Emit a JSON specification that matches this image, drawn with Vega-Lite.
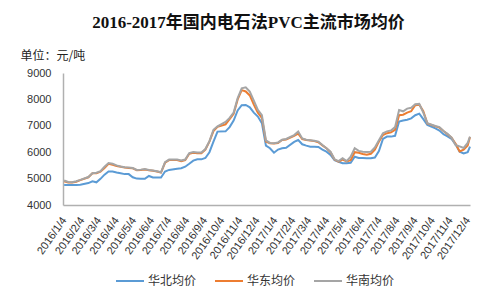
{
  "$schema": "https://vega.github.io/schema/vega-lite/v6.json",
  "width": 407,
  "height": 132,
  "autosize": {"type": "none"},
  "padding": {"left": 63, "top": 73, "right": 28, "bottom": 98},
  "background": "white",
  "config": {"view": {"stroke": null}, "font": "Liberation Sans"},
  "title": {
    "text": "2016-2017年国内电石法PVC主流市场均价",
    "font": "Liberation Serif, Noto Sans CJK SC",
    "fontSize": 17,
    "fontWeight": "bold",
    "color": "#111111",
    "anchor": "middle",
    "dx": -18,
    "offset": 17
  },
  "data": {
    "values": [
      {"date": "2016-01-04", "华北均价": 4760, "华东均价": 4900, "华南均价": 4930},
      {"date": "2016-01-11", "华北均价": 4760, "华东均价": 4850, "华南均价": 4870},
      {"date": "2016-01-18", "华北均价": 4760, "华东均价": 4850, "华南均价": 4860},
      {"date": "2016-01-25", "华北均价": 4760, "华东均价": 4880, "华南均价": 4900},
      {"date": "2016-02-01", "华北均价": 4770, "华东均价": 4940, "华南均价": 4950},
      {"date": "2016-02-15", "华北均价": 4830, "华东均价": 5050, "华南均价": 5060},
      {"date": "2016-02-22", "华北均价": 4900, "华东均价": 5200, "华南均价": 5200},
      {"date": "2016-02-29", "华北均价": 4860, "华东均价": 5200, "华南均价": 5220},
      {"date": "2016-03-07", "华北均价": 4990, "华东均价": 5260, "华南均价": 5280},
      {"date": "2016-03-14", "华北均价": 5150, "华东均价": 5400, "华南均价": 5450},
      {"date": "2016-03-21", "华北均价": 5270, "华东均价": 5560, "华南均价": 5590},
      {"date": "2016-03-28", "华北均价": 5270, "华东均价": 5520, "华南均价": 5560},
      {"date": "2016-04-04", "华北均价": 5230, "华东均价": 5480, "华南均价": 5500},
      {"date": "2016-04-11", "华北均价": 5200, "华东均价": 5450, "华南均价": 5460},
      {"date": "2016-04-18", "华北均价": 5170, "华东均价": 5420, "华南均价": 5430},
      {"date": "2016-04-25", "华北均价": 5170, "华东均价": 5400, "华南均价": 5420},
      {"date": "2016-05-02", "华北均价": 5050, "华东均价": 5390, "华南均价": 5400},
      {"date": "2016-05-09", "华北均价": 5000, "华东均价": 5320, "华南均价": 5330},
      {"date": "2016-05-16", "华北均价": 4990, "华东均价": 5330, "华南均价": 5340},
      {"date": "2016-05-23", "华北均价": 4990, "华东均价": 5340, "华南均价": 5360},
      {"date": "2016-05-30", "华北均价": 5100, "华东均价": 5320, "华南均价": 5330},
      {"date": "2016-06-06", "华北均价": 5040, "华东均价": 5300, "华南均价": 5310},
      {"date": "2016-06-13", "华北均价": 5040, "华东均价": 5270, "华南均价": 5280},
      {"date": "2016-06-20", "华北均价": 5040, "华东均价": 5230, "华南均价": 5240},
      {"date": "2016-06-27", "华北均价": 5270, "华东均价": 5600, "华南均价": 5620},
      {"date": "2016-07-04", "华北均价": 5330, "华东均价": 5700, "华南均价": 5720},
      {"date": "2016-07-18", "华北均价": 5370, "华东均价": 5700, "华南均价": 5720},
      {"date": "2016-07-25", "华北均价": 5390, "华东均价": 5660, "华南均价": 5690},
      {"date": "2016-08-01", "华北均价": 5450, "华东均价": 5700, "华南均价": 5720},
      {"date": "2016-08-08", "华北均价": 5560, "华东均价": 5940, "华南均价": 5970},
      {"date": "2016-08-15", "华北均价": 5680, "华东均价": 5980, "华南均价": 6010},
      {"date": "2016-08-22", "华北均价": 5730, "华东均价": 5960, "华南均价": 5990},
      {"date": "2016-08-29", "华北均价": 5730, "华东均价": 5960, "华南均价": 5990},
      {"date": "2016-09-05", "华北均价": 5780, "华东均价": 6100, "华南均价": 6120},
      {"date": "2016-09-12", "华北均价": 6000, "华东均价": 6400, "华南均价": 6420},
      {"date": "2016-09-19", "华北均价": 6400, "华东均价": 6800, "华南均价": 6850},
      {"date": "2016-09-26", "华北均价": 6780, "华东均价": 6960, "华南均价": 6980},
      {"date": "2016-10-10", "华北均价": 6790, "华东均价": 7050, "华南均价": 7150},
      {"date": "2016-10-17", "华北均价": 6950, "华东均价": 7250, "华南均价": 7300},
      {"date": "2016-10-24", "华北均价": 7200, "华东均价": 7450, "华南均价": 7500},
      {"date": "2016-10-31", "华北均价": 7580, "华东均价": 8000, "华南均价": 8050},
      {"date": "2016-11-07", "华北均价": 7780, "华东均价": 8350, "华南均价": 8420},
      {"date": "2016-11-14", "华北均价": 7790, "华东均价": 8300, "华南均价": 8460},
      {"date": "2016-11-21", "华北均价": 7700, "华东均价": 8150, "华南均价": 8300},
      {"date": "2016-11-28", "华北均价": 7500, "华东均价": 7800, "华南均价": 7950},
      {"date": "2016-12-05", "华北均价": 7350, "华东均价": 7500, "华南均价": 7600},
      {"date": "2016-12-12", "华北均价": 7100, "华东均价": 7300, "华南均价": 7400},
      {"date": "2016-12-19", "华北均价": 6250, "华东均价": 6400, "华南均价": 6450},
      {"date": "2016-12-26", "华北均价": 6150, "华东均价": 6340, "华南均价": 6350},
      {"date": "2017-01-02", "华北均价": 5980, "华东均价": 6330, "华南均价": 6340},
      {"date": "2017-01-09", "华北均价": 6100, "华东均价": 6350, "华南均价": 6370},
      {"date": "2017-01-16", "华北均价": 6150, "华东均价": 6460, "华南均价": 6470},
      {"date": "2017-01-23", "华北均价": 6170, "华东均价": 6480, "华南均价": 6500},
      {"date": "2017-02-06", "华北均价": 6390, "华东均价": 6620, "华南均价": 6650},
      {"date": "2017-02-13", "华北均价": 6460, "华东均价": 6700, "华南均价": 6780},
      {"date": "2017-02-20", "华北均价": 6300, "华东均价": 6500, "华南均价": 6520},
      {"date": "2017-02-27", "华北均价": 6250, "华东均价": 6460, "华南均价": 6470},
      {"date": "2017-03-06", "华北均价": 6210, "华东均价": 6440, "华南均价": 6450},
      {"date": "2017-03-13", "华北均价": 6210, "华东均价": 6420, "华南均价": 6430},
      {"date": "2017-03-20", "华北均价": 6200, "华东均价": 6380, "华南均价": 6400},
      {"date": "2017-03-27", "华北均价": 6100, "华东均价": 6260, "华南均价": 6270},
      {"date": "2017-04-03", "华北均价": 6020, "华东均价": 6150, "华南均价": 6150},
      {"date": "2017-04-10", "华北均价": 5900, "华东均价": 6000, "华南均价": 6020},
      {"date": "2017-04-17", "华北均价": 5700, "华东均价": 5720, "华南均价": 5730},
      {"date": "2017-04-24", "华北均价": 5640, "华东均价": 5640, "华南均价": 5660},
      {"date": "2017-05-01", "华北均价": 5580, "华东均价": 5720, "华南均价": 5770},
      {"date": "2017-05-08", "华北均价": 5580, "华东均价": 5650, "华南均价": 5660},
      {"date": "2017-05-15", "华北均价": 5600, "华东均价": 5700, "华南均价": 5830},
      {"date": "2017-05-22", "华北均价": 5830, "华东均价": 6000, "华南均价": 6150},
      {"date": "2017-05-29", "华北均价": 5780, "华东均价": 5980, "华南均价": 6050},
      {"date": "2017-06-05", "华北均价": 5780, "华东均价": 5930, "华南均价": 6020},
      {"date": "2017-06-12", "华北均价": 5770, "华东均价": 5900, "华南均价": 6010},
      {"date": "2017-06-19", "华北均价": 5770, "华东均价": 5940, "华南均价": 6020},
      {"date": "2017-06-26", "华北均价": 5800, "华东均价": 6100, "华南均价": 6180},
      {"date": "2017-07-03", "华北均价": 6040, "华东均价": 6400, "华南均价": 6450},
      {"date": "2017-07-10", "华北均价": 6500, "华东均价": 6650, "华南均价": 6720},
      {"date": "2017-07-17", "华北均价": 6590, "华东均价": 6720, "华南均价": 6790},
      {"date": "2017-07-24", "华北均价": 6590, "华东均价": 6750, "华南均价": 6820},
      {"date": "2017-07-31", "华北均价": 6620, "华东均价": 6850, "华南均价": 6950},
      {"date": "2017-08-07", "华北均价": 7160, "华东均价": 7400, "华南均价": 7600},
      {"date": "2017-08-14", "华北均价": 7200, "华东均价": 7420, "华南均价": 7550},
      {"date": "2017-08-21", "华北均价": 7230, "华东均价": 7500, "华南均价": 7650},
      {"date": "2017-08-28", "华北均价": 7280, "华东均价": 7550, "华南均价": 7680},
      {"date": "2017-09-04", "华北均价": 7400, "华东均价": 7780, "华南均价": 7820},
      {"date": "2017-09-11", "华北均价": 7460, "华东均价": 7800, "华南均价": 7830},
      {"date": "2017-09-18", "华北均价": 7250, "华东均价": 7550, "华南均价": 7500},
      {"date": "2017-09-25", "华北均价": 7030, "华东均价": 7090, "华南均价": 7100},
      {"date": "2017-10-09", "华北均价": 6900, "华东均价": 6980, "华南均价": 6990},
      {"date": "2017-10-16", "华北均价": 6820, "华东均价": 6930, "华南均价": 6950},
      {"date": "2017-10-23", "华北均价": 6680, "华东均价": 6800, "华南均价": 6800},
      {"date": "2017-10-30", "华北均价": 6600, "华东均价": 6680, "华南均价": 6700},
      {"date": "2017-11-06", "华北均价": 6500, "华东均价": 6550, "华南均价": 6550},
      {"date": "2017-11-13", "华北均价": 6300, "华东均价": 6320, "华南均价": 6270},
      {"date": "2017-11-20", "华北均价": 6020, "华东均价": 6030, "华南均价": 6220},
      {"date": "2017-11-27", "华北均价": 5950, "华东均价": 6100, "华南均价": 6160},
      {"date": "2017-12-04", "华北均价": 6000, "华东均价": 6250, "华南均价": 6350},
      {"date": "2017-12-08", "华北均价": 6210, "华东均价": 6580, "华南均价": 6590}
    ]
  },
  "layer": [
    {
      "transform": [{"fold": ["华北均价", "华东均价", "华南均价"], "as": ["series", "price"]}],
      "mark": {"type": "line", "strokeWidth": 2},
      "encoding": {
        "x": {
          "field": "date",
          "type": "temporal",
          "scale": {"type": "utc", "domain": [{"year": 2016, "month": 1, "date": 2, "utc": true}, {"year": 2017, "month": 12, "date": 8, "utc": true}]},
          "axis": {
            "title": null,
            "values": [
              {"year": 2016, "month": 1, "date": 4, "utc": true},
              {"year": 2016, "month": 2, "date": 4, "utc": true},
              {"year": 2016, "month": 3, "date": 4, "utc": true},
              {"year": 2016, "month": 4, "date": 4, "utc": true},
              {"year": 2016, "month": 5, "date": 4, "utc": true},
              {"year": 2016, "month": 6, "date": 4, "utc": true},
              {"year": 2016, "month": 7, "date": 4, "utc": true},
              {"year": 2016, "month": 8, "date": 4, "utc": true},
              {"year": 2016, "month": 9, "date": 4, "utc": true},
              {"year": 2016, "month": 10, "date": 4, "utc": true},
              {"year": 2016, "month": 11, "date": 4, "utc": true},
              {"year": 2016, "month": 12, "date": 4, "utc": true},
              {"year": 2017, "month": 1, "date": 4, "utc": true},
              {"year": 2017, "month": 2, "date": 4, "utc": true},
              {"year": 2017, "month": 3, "date": 4, "utc": true},
              {"year": 2017, "month": 4, "date": 4, "utc": true},
              {"year": 2017, "month": 5, "date": 4, "utc": true},
              {"year": 2017, "month": 6, "date": 4, "utc": true},
              {"year": 2017, "month": 7, "date": 4, "utc": true},
              {"year": 2017, "month": 8, "date": 4, "utc": true},
              {"year": 2017, "month": 9, "date": 4, "utc": true},
              {"year": 2017, "month": 10, "date": 4, "utc": true},
              {"year": 2017, "month": 11, "date": 4, "utc": true},
              {"year": 2017, "month": 12, "date": 4, "utc": true}
            ],
            "format": "%Y/%-m/%-d",
            "labelAngle": -55,
            "labelAlign": "right",
            "labelBaseline": "middle",
            "labelPadding": 13,
            "labelFontSize": 11,
            "labelColor": "#333333",
            "labelOverlap": false,
            "labelFlush": false,
            "ticks": false,
            "grid": false,
            "domainColor": "#B0B0B0",
            "domainWidth": 1.5
          }
        },
        "y": {
          "field": "price",
          "type": "quantitative",
          "scale": {"domain": [4000, 9000], "nice": false},
          "axis": {
            "values": [4000, 5000, 6000, 7000, 8000, 9000],
            "format": "d",
            "title": "单位：元/吨",
            "titleFont": "Noto Sans CJK SC",
            "titleFontSize": 12,
            "titleFontWeight": "normal",
            "titleColor": "#222222",
            "titleAngle": 0,
            "titleAlign": "left",
            "titleBaseline": "middle",
            "titleX": -43,
            "titleY": -18,
            "labelFontSize": 11,
            "labelColor": "#333333",
            "labelPadding": 12,
            "ticks": false,
            "grid": false,
            "domainColor": "#B0B0B0",
            "domainWidth": 1.5
          }
        },
        "color": {
          "field": "series",
          "type": "nominal",
          "scale": {"domain": ["华北均价", "华东均价", "华南均价"], "range": ["#5B9BD5", "#ED7D31", "#A5A5A5"]},
          "legend": {
            "title": null,
            "orient": "none",
            "direction": "horizontal",
            "legendX": 52,
            "legendY": 193,
            "symbolType": "stroke",
            "symbolSize": 784,
            "symbolStrokeWidth": 2,
            "labelFont": "Noto Sans CJK SC",
            "labelFontSize": 12,
            "labelColor": "#333333",
            "labelOffset": 3,
            "columnPadding": 14
          }
        }
      }
    }
  ]
}
